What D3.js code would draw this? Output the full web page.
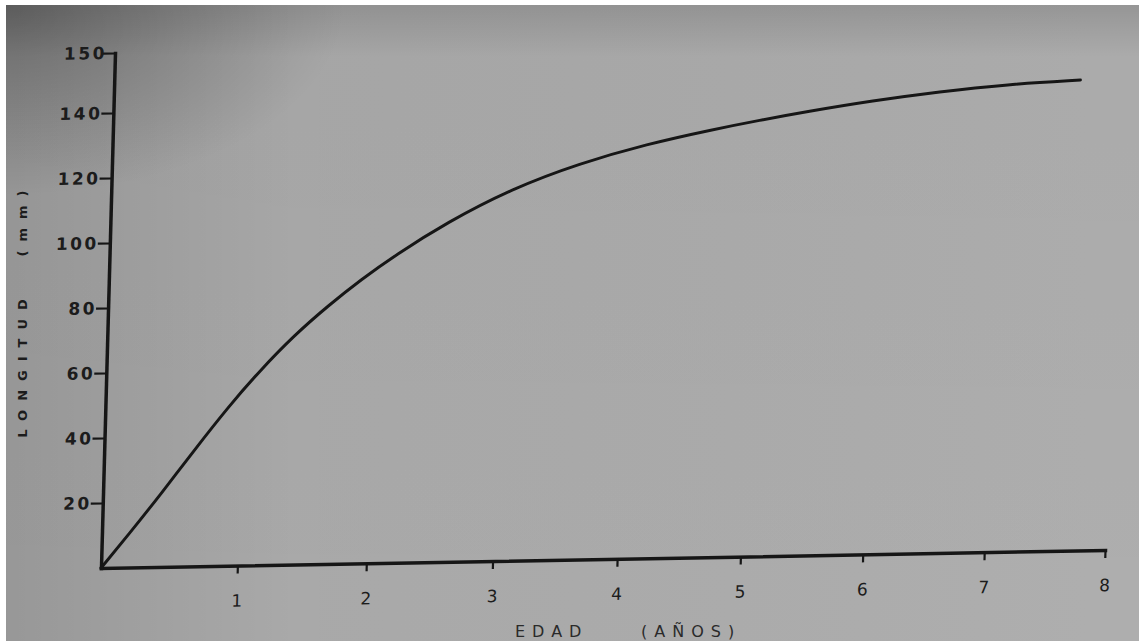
<!DOCTYPE html>
<html>
<head>
<meta charset="utf-8">
<script src="https://cdn.jsdelivr.net/npm/d3@7"></script>
<style>
  html, body { margin: 0; padding: 0; background: #ffffff; }
  svg { display: block; }
</style>
</head>
<body>
<script>
// ---- data ----
const ages    = [0, 0.18, 0.42, 0.65, 0.90, 1.13, 1.39, 1.65, 1.90, 2.16, 2.56, 3.08, 3.61, 4.15, 4.68, 5.06, 5.44, 5.98, 6.53, 7.08, 7.69];
const lengths = [0, 10.0, 23.0, 35.8, 49.0, 59.8, 70.6, 79.6, 87.4, 94.6, 104.4, 114.6, 121.9, 127.5, 131.6, 134.2, 136.6, 139.6, 141.1, 142.1, 142.6];
const xTicks  = [1, 2, 3, 4, 5, 6, 7, 8];
const yTicks  = [20, 40, 60, 80, 100, 120, 140, 150];
const yTitleWord = "LONGITUD";
const yTitleUnit = "(mm)";
const xTitleWord = "EDAD";
const xTitleUnit = "(AÑOS)";

const W = 1139, H = 643;
const ink = "#161616";
const font = "'DejaVu Sans', sans-serif";

const svg = d3.select("body").append("svg").attr("width", W).attr("height", H);
const defs = svg.append("defs");

// paper background with photographic shading
const gH = defs.append("linearGradient").attr("id", "shadeH").attr("x1", 0).attr("x2", 1).attr("y1", 0).attr("y2", 0);
gH.append("stop").attr("offset", "0").attr("stop-color", "#000").attr("stop-opacity", 0.12);
gH.append("stop").attr("offset", "0.25").attr("stop-color", "#000").attr("stop-opacity", 0.02);
gH.append("stop").attr("offset", "1").attr("stop-color", "#fff").attr("stop-opacity", 0.03);
const gV = defs.append("linearGradient").attr("id", "shadeV").attr("x1", 0).attr("x2", 0).attr("y1", 0).attr("y2", 1);
gV.append("stop").attr("offset", "0").attr("stop-color", "#000").attr("stop-opacity", 0.14);
gV.append("stop").attr("offset", "0.08").attr("stop-color", "#000").attr("stop-opacity", 0.02);
gV.append("stop").attr("offset", "1").attr("stop-color", "#000").attr("stop-opacity", 0.0);
const gR = defs.append("radialGradient").attr("id", "shadeC").attr("cx", 0).attr("cy", 0).attr("r", 0.3);
gR.append("stop").attr("offset", "0").attr("stop-color", "#000").attr("stop-opacity", 0.3);
gR.append("stop").attr("offset", "1").attr("stop-color", "#000").attr("stop-opacity", 0);

const paper = { x: 6, y: 5, w: W - 6, h: H - 7 };
svg.append("rect").attr("x", paper.x).attr("y", paper.y).attr("width", paper.w).attr("height", paper.h).attr("fill", "#acacac");
svg.append("rect").attr("x", paper.x).attr("y", paper.y).attr("width", paper.w).attr("height", paper.h).attr("fill", "url(#shadeH)");
svg.append("rect").attr("x", paper.x).attr("y", paper.y).attr("width", paper.w).attr("height", paper.h).attr("fill", "url(#shadeV)");
svg.append("rect").attr("x", paper.x).attr("y", paper.y).attr("width", paper.w).attr("height", paper.h).attr("fill", "url(#shadeC)");

// plot frame, slightly sheared as in the photographed page
const g = svg.append("g")
  .attr("transform", "translate(101,568) matrix(1,-0.0179,-0.0272,1,0,0)");

const x = d3.scalePow().exponent(0.96).domain([0, 8]).range([0, 1004]);
const y = d3.scaleLinear().domain([0, 140, 150]).range([0, -455, -515]);

// x axis
const gx = g.append("g").call(
  d3.axisBottom(x).tickValues(xTicks).tickSize(8).tickSizeOuter(0).tickPadding(21).tickFormat(d3.format("d"))
);
gx.select(".domain").attr("stroke", ink).attr("stroke-width", 3.5).attr("stroke-linecap", "square");
gx.selectAll(".tick line").attr("stroke", ink).attr("stroke-width", 2.2);
gx.selectAll(".tick text").attr("fill", "#1c1c1c").attr("font-family", font).attr("font-size", 17);

// y axis
const gy = g.append("g").call(
  d3.axisLeft(y).tickValues(yTicks).tickSize(12).tickSizeOuter(0).tickFormat(d3.format("d"))
);
gy.select(".domain").attr("stroke", ink).attr("stroke-width", 3.5).attr("stroke-linecap", "square");
gy.selectAll(".tick line").attr("stroke", ink).attr("stroke-width", 2.2);
gy.selectAll(".tick text").attr("x", -11).attr("fill", "#1c1c1c").attr("font-family", font)
  .attr("font-size", 17).attr("font-weight", "bold").attr("letter-spacing", 2.5);
gy.selectAll(".tick text").filter(d => d === 150).attr("x", -8);

// growth curve
const pts = ages.map((a, i) => ({ a, v: lengths[i] }));
g.append("path").datum(pts)
  .attr("fill", "none").attr("stroke", ink).attr("stroke-width", 3)
  .attr("stroke-linecap", "round").attr("stroke-linejoin", "round")
  .attr("d", d3.line().x(d => x(d.a)).y(d => y(d.v)).curve(d3.curveBasis));

// axis titles
const yt = svg.append("g").attr("font-family", font).attr("font-weight", "bold").attr("font-size", 13)
  .attr("fill", "#1c1c1c").attr("letter-spacing", 9).attr("text-anchor", "middle");
yt.append("text").attr("transform", "translate(27,364) rotate(-90)").text(yTitleWord);
yt.append("text").attr("transform", "translate(27,219) rotate(-90)").text(yTitleUnit);

const xt = svg.append("g").attr("font-family", font).attr("font-size", 16)
  .attr("fill", "#2a2a2a").attr("letter-spacing", 7);
xt.append("text").attr("x", 515).attr("y", 637).text(xTitleWord);
xt.append("text").attr("x", 641).attr("y", 637).text(xTitleUnit);
</script>
</body>
</html>
